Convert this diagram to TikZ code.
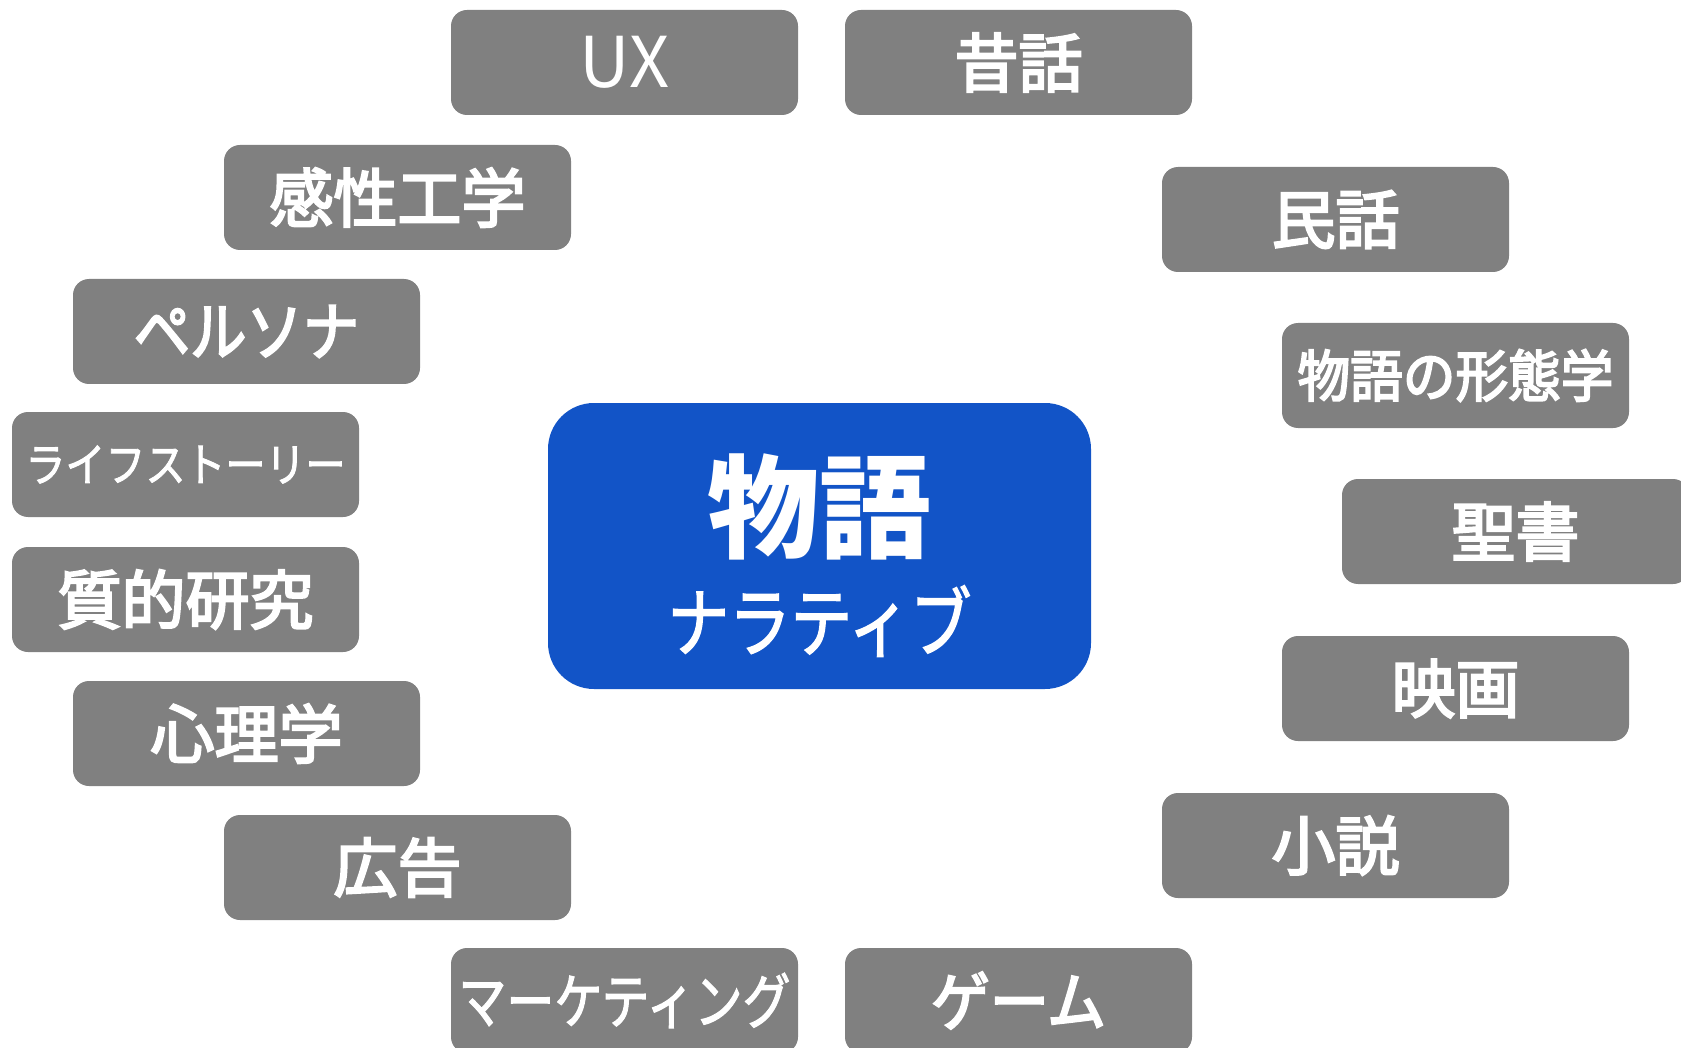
\documentclass[tikz,border=0pt]{standalone}
\usepackage{fontspec}
\setmainfont{Noto Sans CJK JP}
\newfontfamily\medjp{Noto Sans CJK JP}[FakeBold=3.5]
\newfontfamily\semijp{Noto Sans CJK JP}[FakeBold=2]
\definecolor{boxgray}{RGB}{128,128,128}
\definecolor{coreblue}{RGB}{18,84,199}
\newcommand{\hsq}[2]{\raisebox{-3pt}{\scalebox{#1}[1]{#2}}}
\newcommand{\dn}[1]{\raisebox{-3pt}{#1}}
\tikzset{
  tag/.style={rectangle, rounded corners=16pt, fill=boxgray, text=white,
    minimum width=347pt, minimum height=105pt, inner sep=0pt,
    font=\medjp\fontsize{64}{70}\selectfont},
  thin/.style={font=\rmfamily\fontsize{70}{74}\selectfont},
  core/.style={rectangle, rounded corners=46pt, fill=coreblue,
    minimum width=543pt, minimum height=286pt, inner sep=0pt},
  coretxt/.style={text=white, inner sep=0pt}
}
\begin{document}
\begin{tikzpicture}[x=1pt,y=-1pt]
\path[use as bounding box] (0,0) rectangle (1681,1048);
\clip (0,0) rectangle (1681,1048);
% center
\node[core] (center) at (819.5,546) {};
\node[coretxt, font=\bfseries\fontsize{112}{112}\selectfont] (title) at (819.5,507) {物語};
\node[coretxt, font=\semijp\fontsize{76}{76}\selectfont] (sub) at (819.5,621) {\scalebox{0.81}[1]{ナラティブ}};
% left side
\node[tag, thin] (ux) at (624.5,62.5) {\raisebox{-4pt}{UX}};
\node[tag] (kansei) at (397.5,197.5) {\dn{感性工学}};
\node[tag] (persona) at (246.5,331.5) {\hsq{0.88}{ペルソナ}};
\node[tag, font=\semijp\fontsize{46}{50}\selectfont] (life) at (185.5,464.5) {\hsq{0.87}{ライフストーリー}};
\node[tag] (shitsu) at (185.5,599.5) {\dn{質的研究}};
\node[tag] (shinri) at (246.5,733.5) {\dn{心理学}};
\node[tag] (kokoku) at (397.5,867.5) {\dn{広告}};
\node[tag, font=\semijp\fontsize{60}{64}\selectfont] (mkt) at (624.5,1000.5) {\hsq{0.8}{マーケティング}};
% right side
\node[tag] (mukashi) at (1018.5,62.5) {\dn{昔話}};
\node[tag] (minwa) at (1335.5,219.5) {\dn{民話}};
\node[tag, font=\medjp\fontsize{56}{60}\selectfont] (keitai) at (1455.5,375.5) {\hsq{0.94}{物語の形態学}};
\node[tag] (seisho) at (1515.5,531.5) {\dn{聖書}};
\node[tag] (eiga) at (1455.5,688.5) {\dn{映画}};
\node[tag] (shosetsu) at (1335.5,845.5) {\dn{小説}};
\node[tag] (game) at (1018.5,1000.5) {\hsq{0.92}{ゲーム}};
\end{tikzpicture}
\end{document}
